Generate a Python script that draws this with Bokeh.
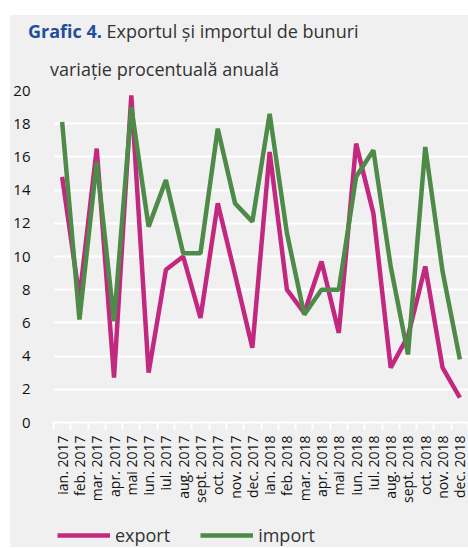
import math
from bokeh.plotting import figure
from bokeh.layouts import column
from bokeh.models import FixedTicker, Legend, LegendItem, ColumnDataSource, Range1d, Div
from bokeh.embed import file_html
from bokeh.resources import INLINE

months = ["ian. 2017", "feb. 2017", "mar. 2017", "apr. 2017", "mai 2017", "iun. 2017",
          "iul. 2017", "aug. 2017", "sept. 2017", "oct. 2017", "nov. 2017", "dec. 2017",
          "ian. 2018", "feb. 2018", "mar. 2018", "apr. 2018", "mai 2018", "iun. 2018",
          "iul. 2018", "aug. 2018", "sept. 2018", "oct. 2018", "nov. 2018", "dec. 2018"]
export_vals = [14.8, 7.5, 16.5, 2.7, 19.7, 3.0, 9.2, 10.0, 6.3, 13.2, 8.9, 4.5,
               16.3, 8.0, 6.6, 9.7, 5.4, 16.8, 12.6, 3.3, 5.2, 9.4, 3.3, 1.5]
import_vals = [18.1, 6.2, 15.7, 6.1, 19.0, 11.8, 14.6, 10.2, 10.2, 17.7, 13.2, 12.1,
               18.6, 11.4, 6.5, 8.0, 8.0, 14.8, 16.4, 9.4, 4.1, 16.6, 9.1, 3.8]
y_ticks = list(range(0, 21, 2))
series_names = ["export", "import"]

FONT = "Open Sans"
BG = "#f0f0f0"
MAGENTA = "#c2287f"
GREEN = "#4e8a48"
W = 457

n = len(months)
centers = [i + 0.5 for i in range(n)]
bounds = list(range(n + 1))
src = ColumnDataSource(dict(x=centers, exp=export_vals, imp=import_vals))

# ---- title block (real HTML text) ----
title_html = (
    f'<div style="padding:6px 0 0 18px;font-family:\'{FONT}\';font-size:18px;line-height:20px;'
    'color:#333333;white-space:nowrap">'
    '<span style="font-weight:bold;color:#1f4e9a">Grafic 4.</span> Exportul și importul de bunuri</div>'
    f'<div style="padding:19px 0 0 40px;font-family:\'{FONT}\';font-size:18px;line-height:18px;'
    'color:#333333;white-space:nowrap">variație procentuală anuală</div>'
)
title_div = Div(text=title_html, width=W, height=66, margin=0,
                styles={"background-color": BG})

# ---- main chart ----
p = figure(frame_width=415, frame_height=332, output_backend="svg", toolbar_location=None,
           x_range=Range1d(0, n), y_range=Range1d(0, 20),
           min_border_left=40, min_border_right=2, min_border_top=9,
           min_border_bottom=99, margin=0)
p.background_fill_color = BG
p.border_fill_color = BG
p.outline_line_color = None

p.line("x", "exp", source=src, line_color=MAGENTA, line_width=4.5)
p.line("x", "imp", source=src, line_color=GREEN, line_width=4.5)

p.xgrid.visible = False
p.ygrid.ticker = FixedTicker(ticks=y_ticks)
p.ygrid.grid_line_color = "white"
p.ygrid.grid_line_width = 2

xa = p.xaxis[0]
xa.ticker = FixedTicker(ticks=centers, minor_ticks=bounds)
xa.major_label_overrides = {c: m for c, m in zip(centers, months)}
xa.major_label_orientation = math.pi / 2
xa.major_tick_line_color = None
xa.major_tick_out = 7
xa.major_tick_in = 0
xa.minor_tick_line_color = "white"
xa.minor_tick_line_width = 2
xa.minor_tick_out = 7
xa.minor_tick_in = 0
xa.axis_line_color = "white"
xa.axis_line_width = 2
xa.major_label_standoff = 6
xa.major_label_text_font = FONT
xa.major_label_text_font_size = "14px"
xa.major_label_text_color = "#111111"

ya = p.yaxis[0]
ya.ticker = FixedTicker(ticks=y_ticks)
ya.axis_line_color = None
ya.major_tick_line_color = None
ya.minor_tick_line_color = None
ya.major_label_standoff = 17
ya.major_label_text_font = FONT
ya.major_label_text_font_size = "15px"
ya.major_label_text_color = "#111111"

# ---- legend strip (same series, drawn outside its view; only the legend shows) ----
lg = figure(width=W, height=26, output_backend="svg", toolbar_location=None,
            x_axis_type=None, y_axis_type=None, min_border=0, margin=0,
            min_border_left=0, min_border_right=0, min_border_top=0, min_border_bottom=0,
            x_range=Range1d(-10, -9), y_range=Range1d(-10, -9))
lg.background_fill_color = BG
lg.border_fill_color = BG
lg.outline_line_color = None
l_exp = lg.line("x", "exp", source=src, line_color=MAGENTA, line_width=4.5)
l_imp = lg.line("x", "imp", source=src, line_color=GREEN, line_width=4.5)
legend = Legend(items=[LegendItem(label=series_names[0], renderers=[l_exp]),
                       LegendItem(label=series_names[1], renderers=[l_imp])],
                orientation="horizontal", location=(4, 0),
                label_text_font=FONT, label_text_font_size="18px",
                label_text_color="#333333", glyph_width=53, glyph_height=20,
                label_height=20, label_standoff=5, spacing=30, padding=0, margin=0,
                border_line_color=None, background_fill_alpha=0)
lg.add_layout(legend)

layout = column(title_div, p, lg, spacing=0, margin=(15, 0, 0, 10),
                styles={"background-color": BG})

open("out.html", "w").write(file_html(layout, INLINE))
